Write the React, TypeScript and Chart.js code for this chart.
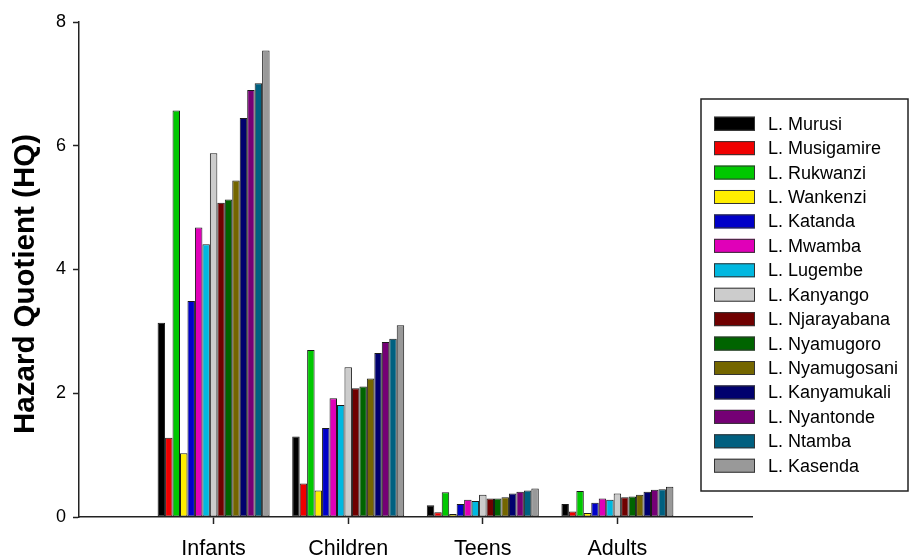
import React, { useEffect, useRef } from "react";
import { Chart, registerables } from "chart.js";

Chart.register(...registerables);

const categories = ["", "Infants", "Children", "Teens", "Adults", ""];

const seriesNames = [
  "L. Murusi",
  "L. Musigamire",
  "L. Rukwanzi",
  "L. Wankenzi",
  "L. Katanda",
  "L. Mwamba",
  "L. Lugembe",
  "L. Kanyango",
  "L. Njarayabana",
  "L. Nyamugoro",
  "L. Nyamugosani",
  "L. Kanyamukali",
  "L. Nyantonde",
  "L. Ntamba",
  "L. Kasenda",
];

const seriesColors = [
  "#000000",
  "#f00000",
  "#00c800",
  "#ffee00",
  "#0000c8",
  "#e000b8",
  "#00b8e0",
  "#cccccc",
  "#700000",
  "#006400",
  "#746600",
  "#00006e",
  "#750075",
  "#006080",
  "#999999",
];

// values per age group, one per lake (same order as seriesNames)
const infants = [3.14, 1.28, 6.57, 1.03, 3.49, 4.68, 4.41, 5.88, 5.08, 5.13, 5.44, 6.45, 6.9, 7.01, 7.54];
const children = [1.3, 0.54, 2.7, 0.43, 1.44, 1.92, 1.81, 2.42, 2.08, 2.11, 2.24, 2.65, 2.83, 2.88, 3.1];
const teens = [0.19, 0.075, 0.4, 0.05, 0.21, 0.28, 0.26, 0.36, 0.3, 0.3, 0.32, 0.38, 0.41, 0.43, 0.46];
const adults = [0.21, 0.09, 0.42, 0.065, 0.23, 0.3, 0.28, 0.38, 0.32, 0.33, 0.36, 0.41, 0.44, 0.45, 0.49];

const yTicks = [0, 2, 4, 6, 8];
const yTitle = "Hazard Quotient (HQ)";

const FONT = "'Liberation Sans', Arial, sans-serif";

const overlayPlugin = {
  id: "overlay",
  afterDraw(chart: any) {
    const ctx = chart.ctx;
    ctx.save();
    // y axis title
    ctx.translate(26, 284);
    ctx.rotate(-Math.PI / 2);
    ctx.font = `bold 29.5px ${FONT}`;
    ctx.fillStyle = "#000";
    ctx.textAlign = "center";
    ctx.textBaseline = "middle";
    ctx.fillText(yTitle, 0, 0);
    ctx.restore();

    // legend box
    ctx.save();
    ctx.strokeStyle = "#222";
    ctx.lineWidth = 1.5;
    ctx.strokeRect(701, 99, 207, 392);
    ctx.font = `18px ${FONT}`;
    ctx.textAlign = "left";
    ctx.textBaseline = "middle";
    chart.data.datasets.forEach((ds: any, i: number) => {
      const cy = 123.7 + i * 24.43;
      ctx.fillStyle = ds.backgroundColor;
      ctx.fillRect(714, cy - 7, 41, 14);
      ctx.strokeStyle = "#333";
      ctx.lineWidth = 1;
      ctx.strokeRect(714.5, cy - 6.5, 40, 13);
      ctx.fillStyle = "#000";
      ctx.fillText(ds.label, 768, cy + 1);
    });
    ctx.restore();
  },
};

export default function App() {
  const ref = useRef<HTMLCanvasElement | null>(null);

  useEffect(() => {
    if (!ref.current) return;
    const datasets = seriesNames.map((name, i) => ({
      label: name,
      data: [null, infants[i], children[i], teens[i], adults[i], null],
      backgroundColor: seriesColors[i],
      borderColor: "#1a1a1a",
      borderWidth: 1,
      borderSkipped: false as const,
      categoryPercentage: 0.832,
      barPercentage: 1,
    }));

    const chart = new Chart(ref.current, {
      type: "bar",
      data: { labels: categories, datasets },
      plugins: [overlayPlugin],
      options: {
        responsive: false,
        animation: false,
        layout: { padding: { top: 22, right: 157, left: 0, bottom: 0 } },
        plugins: { legend: { display: false }, tooltip: { enabled: false } },
        scales: {
          x: {
            type: "category",
            offset: false,
            afterFit: (s: any) => {
              s.height = 41;
            },
            grid: {
              offset: false,
              drawOnChartArea: false,
              tickLength: 7,
              tickColor: (c: any) => (c.index === 0 || c.index === categories.length - 1 ? "rgba(0,0,0,0)" : "#222"),
              tickWidth: 1.5,
            },
            border: { display: true, color: "#222", width: 1.5 },
            ticks: {
              color: "#000",
              font: { family: FONT, size: 21.5 },
              padding: 12,
              maxRotation: 0,
              autoSkip: false,
            },
          },
          y: {
            min: 0,
            max: 8,
            afterFit: (s: any) => {
              s.width = 79;
            },
            afterBuildTicks: (s: any) => {
              s.ticks = yTicks.map((v) => ({ value: v }));
            },
            grid: { drawOnChartArea: false, tickLength: 6, tickColor: "#222", tickWidth: 1.5 },
            border: { display: true, color: "#222", width: 1.5 },
            ticks: {
              color: "#000",
              font: { family: FONT, size: 18 },
              padding: 7,
            },
          },
        },
      },
    });
    return () => chart.destroy();
  }, []);

  return (
    <div style={{ position: "absolute", left: 0, top: 0, width: 909, height: 558, background: "#fff" }}>
      <canvas ref={ref} width={909} height={558} style={{ display: "block" }} />
    </div>
  );
}
